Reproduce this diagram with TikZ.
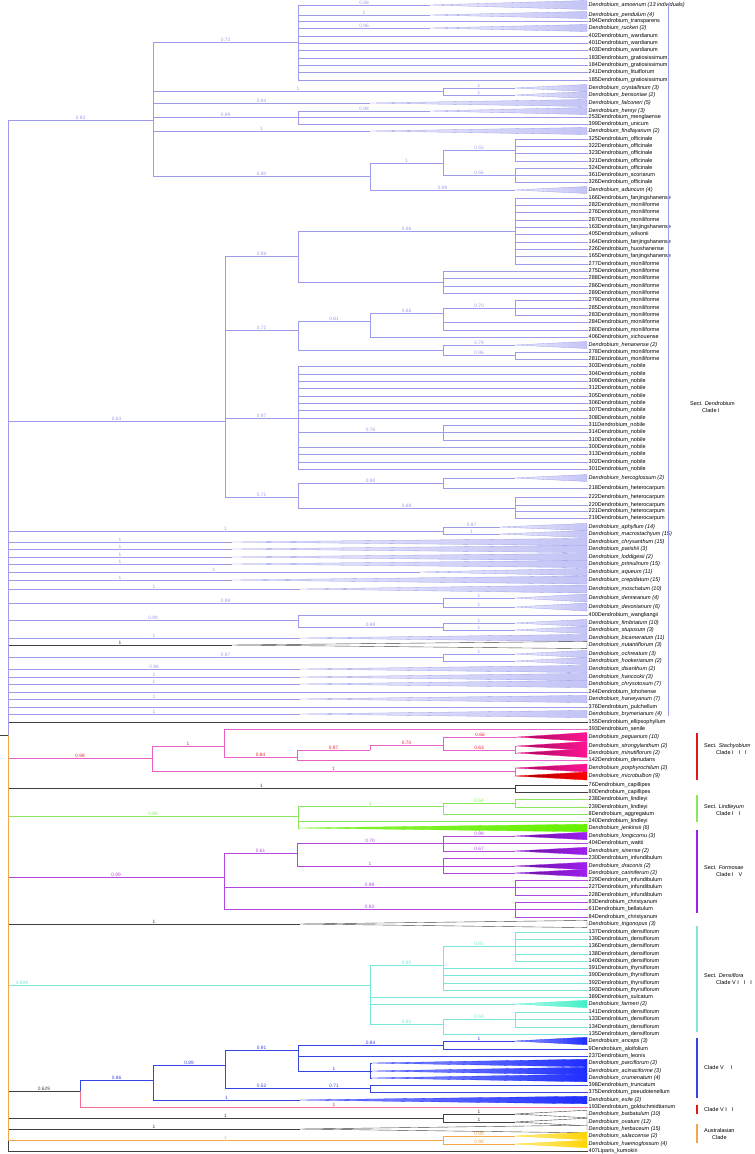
\documentclass[tikz,border=0pt]{standalone}
\usepackage{fontspec}
\setmainfont{Liberation Sans}
\definecolor{lav}{HTML}{9C9CEB}
\definecolor{lavfill}{HTML}{C4C4F6}
\definecolor{stc}{HTML}{E860C8}
\definecolor{stclab}{HTML}{E8202C}
\definecolor{mag}{HTML}{FF1493}
\definecolor{lin}{HTML}{8CE65A}
\definecolor{linfill}{HTML}{66F000}
\definecolor{frm}{HTML}{B048E0}
\definecolor{frmfill}{HTML}{A020F0}
\definecolor{dns}{HTML}{78E8DC}
\definecolor{dnsfill}{HTML}{40F0C8}
\definecolor{blu}{HTML}{3545E0}
\definecolor{blufill}{HTML}{1E2EFF}
\definecolor{gld}{HTML}{F07090}
\definecolor{blk}{HTML}{404040}
\definecolor{aus}{HTML}{F0A848}
\definecolor{ausfill}{HTML}{FFD400}
\definecolor{barred}{HTML}{E01818}
\newcommand\tipfont{\fontsize{5.5}{6}\selectfont}
\newcommand\mytip[3]{\node[tipl] (#1) at (588,#2) {#3};}
\newcommand\mytri[6]{\coordinate (#1) at (#2,#3);
  \path[#5] (#1) -- (587,#3-#4) -- (587,#3+#4) -- cycle;
  \node[tipl,font=\tipfont\itshape] (#1l) at (588,#3) {#6};}
\newcommand\myE[4]{\draw[#1] (#2) |- (#3) node[lab,pos=0.75]{#4};}
\begin{document}
\begin{tikzpicture}[x=1pt,y=-1pt,
  tipl/.style={anchor=west,inner sep=0.5pt,font=\tipfont},
  lab/.style={font=\fontsize{4.8}{5}\selectfont,inner sep=0.6pt,above},
  br/.style={line width=0.45pt},
  elav/.style={br,draw=lav,text=lav},
  estc/.style={br,draw=stc,text=stclab},
  elin/.style={br,draw=lin,text=lin},
  efrm/.style={br,draw=frm,text=frm},
  edns/.style={br,draw=dns,text=dns},
  eblu/.style={br,draw=blu,text=blu},
  egld/.style={br,draw=gld,text=stclab},
  eblk/.style={br,draw=blk,text=blk},
  eaus/.style={br,draw=aus,text=aus},
  tlav/.style={left color=lavfill!35,right color=lavfill,draw=lav,line width=0.3pt},
  tmag/.style={left color=mag!60!black,right color=mag,draw=mag,line width=0.3pt},
  tred/.style={left color=red!60!black,right color=red,draw=red,line width=0.3pt},
  tlin/.style={left color=linfill!75,right color=linfill,draw=linfill,line width=0.3pt},
  tfrm/.style={left color=frmfill!60!black,right color=frmfill,draw=frmfill,line width=0.3pt},
  tdns/.style={left color=dnsfill!40,right color=dnsfill,draw=dnsfill,line width=0.3pt},
  tblu/.style={left color=blufill!50,right color=blufill,draw=blufill,line width=0.3pt},
  tblk/.style={fill=white,draw=blk,line width=0.4pt},
  taus/.style={left color=ausfill!40,right color=ausfill,draw=ausfill,line width=0.3pt},
  clab/.style={font=\fontsize{5.5}{6.5}\selectfont,align=left,anchor=west,inner sep=0pt},
  bar/.style={line width=2pt}]
\useasboundingbox (0,0) rectangle (755,1154);
% ---------------- tips ----------------
\mytri{t1}{430}{5}{4.5}{tlav}{Dendrobium\_amoenum (13 individuals)}
\mytri{t2}{430}{15}{3.5}{tlav}{Dendrobium\_pendulum (4)}
\mytip{t3}{21}{394Dendrobium\_transparens}
\mytri{t4}{430}{28}{3.5}{tlav}{Dendrobium\_ruckeri (2)}
\mytip{t5}{36}{402Dendrobium\_wardianum}
\mytip{t6}{43}{401Dendrobium\_wardianum}
\mytip{t7}{50}{403Dendrobium\_wardianum}
\mytip{t8}{58}{183Dendrobium\_gratiosissimum}
\mytip{t9}{65}{184Dendrobium\_gratiosissimum}
\mytip{t10}{72}{241Dendrobium\_lituiflorum}
\mytip{t11}{80}{185Dendrobium\_gratiosissimum}
\mytri{t12}{515}{88}{3.5}{tlav}{Dendrobium\_crystallinum (3)}
\mytri{t13}{515}{95}{3.5}{tlav}{Dendrobium\_bensoniae (2)}
\mytri{t14}{370}{103}{3.5}{tlav}{Dendrobium\_falconeri (5)}
\mytri{t15}{430}{111}{3.5}{tlav}{Dendrobium\_henryi (3)}
\mytip{t16}{117}{253Dendrobium\_menglaense}
\mytip{t17}{124}{399Dendrobium\_unicum}
\mytri{t18}{370}{131}{3.5}{tlav}{Dendrobium\_findlayanum (2)}
\mytip{t19}{139}{325Dendrobium\_officinale}
\mytip{t20}{146}{322Dendrobium\_officinale}
\mytip{t21}{153}{323Dendrobium\_officinale}
\mytip{t22}{161}{321Dendrobium\_officinale}
\mytip{t23}{168}{324Dendrobium\_officinale}
\mytip{t24}{175}{361Dendrobium\_scoriarum}
\mytip{t25}{182}{326Dendrobium\_officinale}
\mytri{t26}{515}{190}{3.5}{tlav}{Dendrobium\_aduncum (4)}
\mytip{t27}{198}{166Dendrobium\_fanjingshanense}
\mytip{t28}{205}{282Dendrobium\_moniliforme}
\mytip{t29}{212}{276Dendrobium\_moniliforme}
\mytip{t30}{220}{287Dendrobium\_moniliforme}
\mytip{t31}{227}{163Dendrobium\_fanjingshanense}
\mytip{t32}{234}{405Dendrobium\_wilsonii}
\mytip{t33}{242}{164Dendrobium\_fanjingshanense}
\mytip{t34}{249}{226Dendrobium\_huoshanense}
\mytip{t35}{256}{165Dendrobium\_fanjingshanense}
\mytip{t36}{264}{277Dendrobium\_moniliforme}
\mytip{t37}{271}{275Dendrobium\_moniliforme}
\mytip{t38}{278}{288Dendrobium\_moniliforme}
\mytip{t39}{286}{286Dendrobium\_moniliforme}
\mytip{t40}{293}{289Dendrobium\_moniliforme}
\mytip{t41}{300}{279Dendrobium\_moniliforme}
\mytip{t42}{308}{285Dendrobium\_moniliforme}
\mytip{t43}{315}{283Dendrobium\_moniliforme}
\mytip{t44}{322}{284Dendrobium\_moniliforme}
\mytip{t45}{330}{280Dendrobium\_moniliforme}
\mytip{t46}{337}{406Dendrobium\_xichouense}
\mytri{t47}{515}{345}{3.5}{tlav}{Dendrobium\_henanense (2)}
\mytip{t48}{352}{278Dendrobium\_moniliforme}
\mytip{t49}{359}{281Dendrobium\_moniliforme}
\mytip{t50}{366}{303Dendrobium\_nobile}
\mytip{t51}{374}{304Dendrobium\_nobile}
\mytip{t52}{381}{309Dendrobium\_nobile}
\mytip{t53}{388}{312Dendrobium\_nobile}
\mytip{t54}{396}{305Dendrobium\_nobile}
\mytip{t55}{403}{306Dendrobium\_nobile}
\mytip{t56}{410}{307Dendrobium\_nobile}
\mytip{t57}{418}{308Dendrobium\_nobile}
\mytip{t58}{425}{311Dendrobium\_nobile}
\mytip{t59}{432}{314Dendrobium\_nobile}
\mytip{t60}{440}{310Dendrobium\_nobile}
\mytip{t61}{447}{300Dendrobium\_nobile}
\mytip{t62}{454}{313Dendrobium\_nobile}
\mytip{t63}{462}{302Dendrobium\_nobile}
\mytip{t64}{469}{301Dendrobium\_nobile}
\mytri{t65}{515}{478}{3.5}{tlav}{Dendrobium\_hercoglossum (2)}
\mytip{t66}{488}{218Dendrobium\_heterocarpum}
\mytip{t67}{497}{222Dendrobium\_heterocarpum}
\mytip{t68}{505}{220Dendrobium\_heterocarpum}
\mytip{t69}{511}{221Dendrobium\_heterocarpum}
\mytip{t70}{518}{219Dendrobium\_heterocarpum}
\mytri{t71}{500}{527}{3.6}{tlav}{Dendrobium\_aphyllum (14)}
\mytri{t72}{500}{534}{3.6}{tlav}{Dendrobium\_macrostachyum (15)}
\mytri{t73}{232}{542}{3.6}{tlav}{Dendrobium\_chrysanthum (15)}
\mytri{t74}{232}{549}{3.6}{tlav}{Dendrobium\_parishii (3)}
\mytri{t75}{232}{557}{3.6}{tlav}{Dendrobium\_loddigesii (2)}
\mytri{t76}{232}{564}{3.6}{tlav}{Dendrobium\_primulinum (15)}
\mytri{t77}{420}{572}{3.6}{tlav}{Dendrobium\_aqueum (11)}
\mytri{t78}{232}{580}{4}{tlav}{Dendrobium\_crepidatum (15)}
\mytri{t79}{300}{589}{4}{tlav}{Dendrobium\_moschatum (10)}
\mytri{t80}{515}{598}{4}{tlav}{Dendrobium\_denneanum (4)}
\mytri{t81}{515}{607}{4}{tlav}{Dendrobium\_devonianum (6)}
\mytip{t82}{615}{400Dendrobium\_wangliangii}
\mytri{t83}{515}{623}{3.6}{tlav}{Dendrobium\_fimbriatum (10)}
\mytri{t84}{515}{630}{3.6}{tlav}{Dendrobium\_stuposum (3)}
\mytri{t85}{300}{638}{3.6}{tlav}{Dendrobium\_bicameratum (11)}
\mytri{t86}{232}{645}{3.6}{tblk}{Dendrobium\_nutantiflorum (3)}
\mytri{t87}{515}{654}{3.6}{tlav}{Dendrobium\_ochreatum (3)}
\mytri{t88}{515}{661}{3.6}{tlav}{Dendrobium\_hookerianum (2)}
\mytri{t89}{300}{669}{3.6}{tlav}{Dendrobium\_dixanthum (2)}
\mytri{t90}{300}{677}{3.6}{tlav}{Dendrobium\_hancockii (3)}
\mytri{t91}{300}{684}{3.6}{tlav}{Dendrobium\_chrysotoxum (7)}
\mytip{t92}{692}{244Dendrobium\_lohohense}
\mytri{t93}{300}{699}{3.6}{tlav}{Dendrobium\_harveyanum (7)}
\mytip{t94}{707}{376Dendrobium\_pulchellum}
\mytri{t95}{300}{714}{3.6}{tlav}{Dendrobium\_brymerianum (4)}
\mytip{t96}{722}{155Dendrobium\_ellipsophyllum}
\mytip{t97}{729}{393Dendrobium\_senile}
\mytri{t98}{517}{737}{4.5}{tmag}{Dendrobium\_peguanum (10)}
\mytri{t99}{517}{746}{4.5}{tmag}{Dendrobium\_strongylanthum (2)}
\mytri{t100}{517}{753}{4.5}{tmag}{Dendrobium\_minutiflorum (2)}
\mytip{t101}{760}{142Dendrobium\_denudans}
\mytri{t102}{515}{768}{4}{tmag}{Dendrobium\_porphyrochilum (2)}
\mytri{t103}{515}{776}{4}{tred}{Dendrobium\_microbulbon (9)}
\mytip{t104}{785}{76Dendrobium\_capillipes}
\mytip{t105}{792}{80Dendrobium\_capillipes}
\mytip{t106}{799}{238Dendrobium\_lindleyi}
\mytip{t107}{807}{239Dendrobium\_lindleyi}
\mytip{t108}{814}{8Dendrobium\_aggregatum}
\mytip{t109}{821}{240Dendrobium\_lindleyi}
\mytri{t110}{300}{828}{3.8}{tlin}{Dendrobium\_jenkinsii (6)}
\mytri{t111}{515}{836}{3.8}{tfrm}{Dendrobium\_longicornu (3)}
\mytip{t112}{843}{404Dendrobium\_wattii}
\mytri{t113}{515}{851}{3.8}{tfrm}{Dendrobium\_sinense (2)}
\mytip{t114}{858}{230Dendrobium\_infundibulum}
\mytri{t115}{515}{866}{3.8}{tfrm}{Dendrobium\_draconis (2)}
\mytri{t116}{515}{873}{3.8}{tfrm}{Dendrobium\_cariniferum (2)}
\mytip{t117}{880}{229Dendrobium\_infundibulum}
\mytip{t118}{887}{227Dendrobium\_infundibulum}
\mytip{t119}{895}{228Dendrobium\_infundibulum}
\mytip{t120}{902}{83Dendrobium\_christyanum}
\mytip{t121}{909}{61Dendrobium\_bellatulum}
\mytip{t122}{917}{84Dendrobium\_christyanum}
\mytri{t123}{300}{924}{3.6}{tblk}{Dendrobium\_trigonopus (3)}
\mytip{t124}{932}{137Dendrobium\_densiflorum}
\mytip{t125}{939}{139Dendrobium\_densiflorum}
\mytip{t126}{946}{136Dendrobium\_densiflorum}
\mytip{t127}{954}{138Dendrobium\_densiflorum}
\mytip{t128}{961}{140Dendrobium\_densiflorum}
\mytip{t129}{968}{391Dendrobium\_thyrsiflorum}
\mytip{t130}{975}{390Dendrobium\_thyrsiflorum}
\mytip{t131}{983}{392Dendrobium\_thyrsiflorum}
\mytip{t132}{990}{393Dendrobium\_thyrsiflorum}
\mytip{t133}{997}{389Dendrobium\_sulcatum}
\mytri{t134}{515}{1004}{3.8}{tdns}{Dendrobium\_farmeri (2)}
\mytip{t135}{1012}{141Dendrobium\_densiflorum}
\mytip{t136}{1019}{133Dendrobium\_densiflorum}
\mytip{t137}{1027}{134Dendrobium\_densiflorum}
\mytip{t138}{1034}{135Dendrobium\_densiflorum}
\mytri{t139}{515}{1041}{3.8}{tblu}{Dendrobium\_anceps (3)}
\mytip{t140}{1049}{9Dendrobium\_aloifolium}
\mytip{t141}{1056}{237Dendrobium\_leonis}
\mytri{t142}{372}{1063}{3.8}{tblu}{Dendrobium\_parciflorum (2)}
\mytri{t143}{372}{1071}{3.8}{tblu}{Dendrobium\_acinaciforme (3)}
\mytri{t144}{372}{1078}{3.8}{tblu}{Dendrobium\_crumenatum (4)}
\mytip{t145}{1085}{398Dendrobium\_truncatum}
\mytip{t146}{1092}{375Dendrobium\_pseudotenellum}
\mytri{t147}{300}{1100}{3.8}{tblu}{Dendrobium\_exile (2)}
\mytip{t148}{1107}{193Dendrobium\_goldschmidtianum}
\mytri{t149}{515}{1114}{3.8}{tblk}{Dendrobium\_barbatulum (10)}
\mytri{t150}{515}{1122}{3.8}{tblk}{Dendrobium\_ovatum (12)}
\mytri{t151}{300}{1129}{3.8}{tblk}{Dendrobium\_herbaceum (15)}
\mytri{t152}{515}{1136}{3.8}{taus}{Dendrobium\_salaccense (2)}
\mytri{t153}{515}{1144}{3.8}{taus}{Dendrobium\_haemoglossum (4)}
\mytip{t154}{1151}{407Liparis\_kumokiri}
% ---------------- internal nodes ----------------
\coordinate (R) at (8,735);
\coordinate (C1) at (153,120);
\coordinate (A) at (298,42);
\coordinate (CB) at (443,91);
\coordinate (HE) at (298,117);
\coordinate (N90) at (370,176);
\coordinate (OF) at (443,163);
\coordinate (O1) at (515,150);
\coordinate (O2) at (515,175);
\coordinate (N63) at (225,421);
\coordinate (N98) at (298,256);
\coordinate (F) at (515,231);
\coordinate (P) at (443,282);
\coordinate (N72) at (298,330);
\coordinate (N81) at (370,321);
\coordinate (N86) at (443,313);
\coordinate (N70) at (515,308);
\coordinate (H) at (443,350);
\coordinate (N96) at (515,355);
\coordinate (NB) at (298,418);
\coordinate (N76) at (443,432);
\coordinate (N71) at (298,497);
\coordinate (HC) at (443,483);
\coordinate (HT) at (515,508);
\coordinate (AM) at (443,531);
\coordinate (DD) at (443,603);
\coordinate (FS) at (298,620);
\coordinate (FT) at (443,627);
\coordinate (OH) at (443,657);
\coordinate (S) at (152,758);
\coordinate (S1) at (224,746);
\coordinate (N84) at (297,757);
\coordinate (N97) at (370,750);
\coordinate (N70s) at (443,745);
\coordinate (SM) at (515,750);
\coordinate (N99) at (515,771);
\coordinate (CAP) at (515,788);
\coordinate (LIN) at (298,816);
\coordinate (LA) at (443,806);
\coordinate (L1) at (515,803);
\coordinate (FOR) at (224,877);
\coordinate (F1) at (297,853);
\coordinate (F3) at (443,843);
\coordinate (F4) at (443,866);
\coordinate (F5) at (515,887);
\coordinate (F6) at (515,909);
\coordinate (DEN) at (370,985);
\coordinate (D1) at (443,965);
\coordinate (D2) at (515,946);
\coordinate (D3) at (443,1024);
\coordinate (D4) at (515,1019);
\coordinate (X) at (80,1091);
\coordinate (BL1) at (153,1080);
\coordinate (B2) at (225,1065);
\coordinate (B4) at (298,1050);
\coordinate (B5) at (443,1045);
\coordinate (B6) at (370,1071);
\coordinate (B3) at (298,1088);
\coordinate (B7) at (370,1088);
\coordinate (BO) at (443,1118);
\coordinate (AU) at (443,1140);
% ---------------- branches: lower group ----------------
\myE{eblk}{R}{t154}{}
\myE{eblk}{R}{t151}{1}
\myE{eblk}{R}{BO}{1}
\myE{eblk}{BO}{t149}{1}
\myE{eblk}{BO}{t150}{1}
\myE{eblk}{R}{X}{0.629}
\myE{egld}{X}{t148}{1}
\myE{eblu}{X}{BL1}{0.86}
\myE{eblu}{BL1}{t147}{1}
\myE{eblu}{BL1}{B2}{0.89}
\myE{eblu}{B2}{B4}{0.91}
\myE{eblu}{B2}{B3}{0.52}
\myE{eblu}{B4}{B5}{0.84}
\myE{eblu}{B5}{t139}{1}
\myE{eblu}{B5}{t140}{}
\myE{eblu}{B4}{t141}{}
\myE{eblu}{B4}{B6}{1}
\myE{eblu}{B6}{t142}{}
\myE{eblu}{B6}{t143}{}
\myE{eblu}{B6}{t144}{}
\myE{eblu}{B3}{B7}{0.71}
\myE{eblu}{B7}{t145}{}
\myE{eblu}{B7}{t146}{}
\draw[edns] (R) |- (DEN);
\node[lab,text=dns] at (22,985) {0.999};
\myE{edns}{DEN}{D1}{0.95}
\myE{edns}{D1}{D2}{0.92}
\foreach \i in {124,...,128} {\myE{edns}{D2}{t\i}{}}
\foreach \i in {129,...,132} {\myE{edns}{D1}{t\i}{}}
\myE{edns}{DEN}{t133}{}
\myE{edns}{DEN}{t134}{}
\myE{edns}{DEN}{D3}{0.95}
\myE{edns}{D3}{D4}{0.59}
\foreach \i in {135,136,137} {\myE{edns}{D4}{t\i}{}}
\myE{edns}{D3}{t138}{}
\myE{eblk}{R}{t123}{1}
\myE{efrm}{R}{FOR}{0.99}
\myE{efrm}{FOR}{F1}{0.61}
\myE{efrm}{F1}{F3}{0.70}
\myE{efrm}{F3}{t111}{0.99}
\myE{efrm}{F3}{t112}{}
\myE{efrm}{F3}{t113}{0.67}
\myE{efrm}{F1}{F4}{1}
\myE{efrm}{F4}{t114}{}
\myE{efrm}{F4}{t115}{}
\myE{efrm}{F4}{t116}{}
\myE{efrm}{FOR}{F5}{0.98}
\foreach \i in {117,118,119} {\myE{efrm}{F5}{t\i}{}}
\myE{efrm}{FOR}{F6}{0.92}
\foreach \i in {120,121,122} {\myE{efrm}{F6}{t\i}{}}
\myE{elin}{R}{LIN}{0.95}
\myE{elin}{LIN}{LA}{1}
\myE{elin}{LA}{L1}{0.54}
\myE{elin}{L1}{t106}{}
\myE{elin}{L1}{t107}{}
\myE{elin}{LA}{t108}{}
\myE{elin}{LIN}{t109}{}
\myE{elin}{LIN}{t110}{1}
\myE{eblk}{R}{CAP}{1}
\myE{eblk}{CAP}{t104}{}
\myE{eblk}{CAP}{t105}{}
\myE{estc}{R}{S}{0.98}
\myE{estc}{S}{N99}{1}
\myE{estc}{N99}{t102}{}
\myE{estc}{N99}{t103}{}
\myE{estc}{S}{S1}{1}
\myE{estc}{S1}{t97}{}
\myE{estc}{S1}{N84}{0.84}
\myE{estc}{N84}{t101}{}
\myE{estc}{N84}{N97}{0.97}
\myE{estc}{N97}{N70s}{0.70}
\myE{estc}{N70s}{t98}{0.66}
\myE{estc}{N70s}{SM}{0.63}
\myE{estc}{SM}{t99}{}
\myE{estc}{SM}{t100}{}
\myE{eaus}{R}{AU}{1}
\myE{eaus}{AU}{t152}{0.98}
\myE{eaus}{AU}{t153}{0.98}
% ---------------- branches: upper group ----------------
\myE{eblk}{R}{t96}{}
\myE{elav}{R}{t95}{1}
\myE{elav}{R}{t94}{}
\myE{elav}{R}{t93}{1}
\myE{elav}{R}{t92}{}
\myE{elav}{R}{t91}{1}
\myE{elav}{R}{t90}{1}
\myE{elav}{R}{t89}{0.96}
\myE{elav}{R}{OH}{0.97}
\myE{elav}{OH}{t87}{1}
\myE{elav}{OH}{t88}{}
\myE{eblk}{R}{t86}{1}
\myE{elav}{R}{t85}{1}
\myE{elav}{R}{FS}{0.99}
\myE{elav}{FS}{t82}{}
\myE{elav}{FS}{FT}{0.89}
\myE{elav}{FT}{t83}{1}
\myE{elav}{FT}{t84}{1}
\myE{elav}{R}{DD}{0.99}
\myE{elav}{DD}{t80}{1}
\myE{elav}{DD}{t81}{1}
\myE{elav}{R}{t79}{1}
\myE{elav}{R}{t78}{1}
\myE{elav}{R}{t77}{1}
\myE{elav}{R}{t76}{1}
\myE{elav}{R}{t75}{1}
\myE{elav}{R}{t74}{1}
\myE{elav}{R}{t73}{1}
\myE{elav}{R}{AM}{1}
\myE{elav}{AM}{t71}{0.97}
\myE{elav}{AM}{t72}{1}
\myE{elav}{R}{N63}{0.63}
\myE{elav}{N63}{N71}{0.71}
\myE{elav}{N71}{HC}{0.90}
\myE{elav}{HC}{t65}{}
\myE{elav}{HC}{t66}{}
\myE{elav}{N71}{HT}{0.88}
\foreach \i in {67,...,70} {\myE{elav}{HT}{t\i}{}}
\myE{elav}{N63}{NB}{0.97}
\foreach \i in {50,...,57,61,62,63,64} {\myE{elav}{NB}{t\i}{}}
\myE{elav}{NB}{N76}{0.76}
\foreach \i in {58,59,60} {\myE{elav}{N76}{t\i}{}}
\myE{elav}{N63}{N72}{0.72}
\myE{elav}{N72}{N81}{0.81}
\myE{elav}{N81}{N86}{0.86}
\myE{elav}{N86}{N70}{0.70}
\foreach \i in {41,42,43} {\myE{elav}{N70}{t\i}{}}
\myE{elav}{N86}{t44}{}
\myE{elav}{N86}{t45}{}
\myE{elav}{N81}{t46}{}
\myE{elav}{N72}{H}{}
\myE{elav}{H}{t47}{0.79}
\myE{elav}{H}{N96}{0.96}
\myE{elav}{N96}{t48}{}
\myE{elav}{N96}{t49}{}
\myE{elav}{N63}{N98}{0.98}
\myE{elav}{N98}{F}{0.96}
\foreach \i in {27,...,36} {\myE{elav}{F}{t\i}{}}
\myE{elav}{N98}{P}{}
\foreach \i in {37,...,40} {\myE{elav}{P}{t\i}{}}
\myE{elav}{C1}{N90}{0.90}
\myE{elav}{N90}{t26}{0.99}
\myE{elav}{N90}{OF}{1}
\myE{elav}{OF}{O1}{0.55}
\myE{elav}{OF}{O2}{0.56}
\foreach \i in {19,...,22} {\myE{elav}{O1}{t\i}{}}
\foreach \i in {23,24,25} {\myE{elav}{O2}{t\i}{}}
\myE{elav}{C1}{t18}{1}
\myE{elav}{C1}{HE}{0.99}
\myE{elav}{HE}{t15}{0.98}
\myE{elav}{HE}{t16}{}
\myE{elav}{HE}{t17}{}
\myE{elav}{C1}{t14}{0.94}
\myE{elav}{C1}{CB}{1}
\myE{elav}{CB}{t12}{1}
\myE{elav}{CB}{t13}{1}
\myE{elav}{C1}{A}{0.72}
\myE{elav}{A}{t1}{0.98}
\myE{elav}{A}{t2}{1}
\myE{elav}{A}{t3}{}
\myE{elav}{A}{t4}{0.96}
\foreach \i in {5,...,11} {\myE{elav}{A}{t\i}{}}
\myE{elav}{R}{C1}{0.83}
\draw[blk,line width=0.5pt] (0,735) -- (R);
% ---------------- clade bars ----------------
\draw[lav,line width=0.8pt] (668,3) -- (668,716);
\node[clab] at (690,407) {Sect. \textit{Dendrobium}\\\hspace{12pt}Clade I};
\draw[barred,bar] (697,733) -- (697,780);
\node[clab] at (704,749) {Sect. \textit{Stachyobium}\\\hspace{12pt}Clade I\hspace{5pt}I\hspace{5pt}I};
\draw[lin,bar] (697,795) -- (697,822);
\node[clab] at (704,810) {Sect. \textit{Lindleyum}\\\hspace{12pt}Clade I\hspace{5pt}I};
\draw[frmfill,bar] (697,830) -- (697,913);
\node[clab] at (704,871) {Sect. \textit{Formosae}\\\hspace{12pt}Clade I\hspace{5pt}V};
\draw[dns,bar] (697,926) -- (697,1032);
\node[clab] at (704,979) {Sect. \textit{Densiflora}\\\hspace{12pt}Clade V I\hspace{5pt}I\hspace{5pt}I};
\draw[blu,bar] (697,1038) -- (697,1098);
\node[clab] at (704,1068) {Clade V\hspace{7pt}I};
\draw[barred,bar] (697,1105) -- (697,1114);
\node[clab] at (704,1110) {Clade V I\hspace{5pt}I};
\draw[aus,bar] (697,1124) -- (697,1143);
\node[clab] at (704,1134) {Australasian\\\hspace{8pt}Clade};
\end{tikzpicture}
\end{document}
